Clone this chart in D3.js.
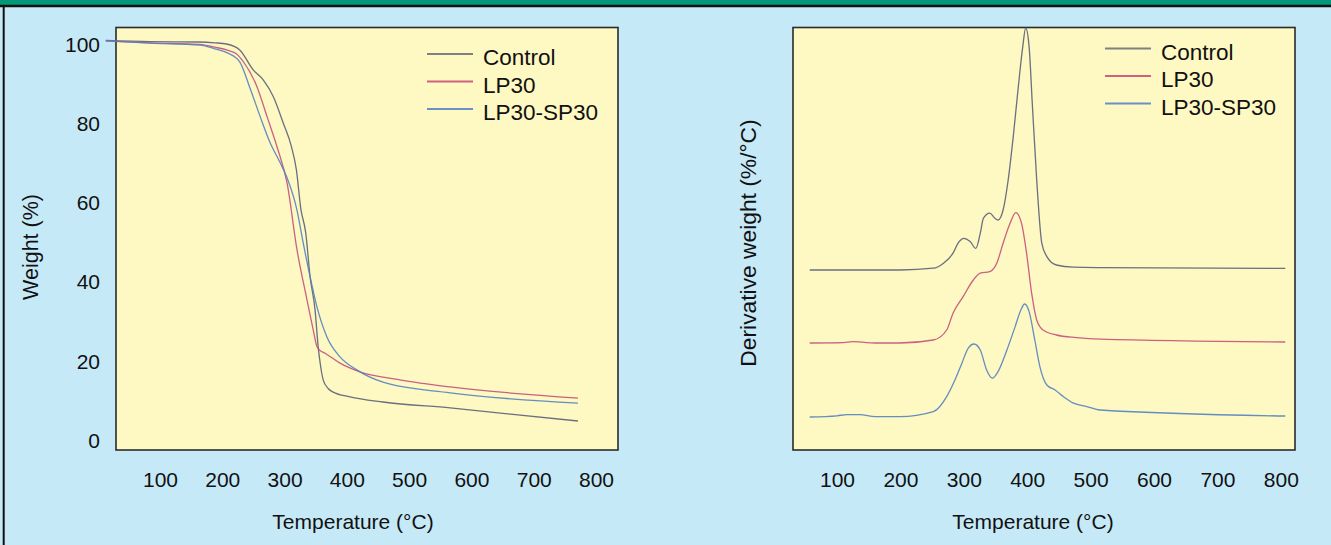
<!DOCTYPE html>
<html>
<head>
<meta charset="utf-8">
<script src="https://cdn.jsdelivr.net/npm/d3@7"></script>
<style>
  html, body { margin: 0; padding: 0; background: #c6e9f8; }
  svg { display: block; font-family: "Liberation Sans", Arial, Helvetica, sans-serif; }
</style>
</head>
<body>
<svg id="chart" width="1331" height="545"></svg>
<script>
// ---- data -------------------------------------------------------------
const seriesNames = ["Control", "LP30", "LP30-SP30"];
const tempTicks = [100, 200, 300, 400, 500, 600, 700, 800];
const weightTicks = [0, 20, 40, 60, 80, 100];

// TGA: [temperature (°C), weight (%)]
const tgaControl = [[13,100.9],[84,100.6],[164,100.5],[188,100.3],[207,100.0],[228,98.5],[250,93.4],[266,90.9],[282,86.7],[298,80],[311,74.1],[319,68.2],[326,58.5],[334,52.3],[341,41.2],[349,32.8],[354,23.5],[358,18.5],[362,15.2],[370,13],[378,12.1],[405,10.9],[458,9.6],[566,8.1],[771,4.8]];
const tgaLP30 = [[13,100.8],[84,100.3],[164,99.9],[188,99.2],[209,98.4],[223,97.5],[234,95.5],[256,89.1],[272,81.6],[288,74],[304,64.9],[320,48],[336,35.4],[346,27.8],[352,23.6],[357,22.6],[365,21.9],[389,19.4],[421,17.2],[485,15.2],[566,13.4],[771,10.6]];
const tgaLP30SP30 = [[13,100.8],[84,100.2],[164,99.7],[188,98.8],[209,97.7],[228,95.5],[244,89.1],[261,81.6],[277,75],[293,70],[304,66.2],[320,58],[330,49.7],[341,41.2],[352,33.6],[368,26],[389,21],[416,17.7],[458,14.6],[566,11.9],[771,9.3]];

// DTG: [temperature (°C), derivative weight (%/°C)]
const dtgControl = [[57,0],[120,0],[200,0],[252,0.009],[268,0.034],[283,0.084],[291,0.134],[300,0.158],[310,0.142],[319,0.108],[326,0.184],[331,0.259],[341,0.284],[349,0.259],[354,0.25],[362,0.3],[370,0.45],[378,0.667],[386,0.917],[393,1.117],[397.6,1.21],[403,1.117],[408,0.834],[415,0.45],[423,0.134],[431,0.067],[446,0.025],[473,0.014],[515,0.012],[807,0.008]];
const dtgLP30 = [[57,0],[110,0.002],[125,0.007],[140,0.004],[160,0],[199,0],[252,0.015],[273,0.065],[283,0.149],[299,0.232],[315,0.315],[326,0.349],[341,0.357],[352,0.399],[362,0.499],[373,0.599],[382,0.652],[391,0.599],[399,0.449],[407,0.249],[415,0.115],[425,0.065],[446,0.04],[478,0.027],[515,0.019],[807,0.005]];
const dtgLP30SP30 = [[57,0],[100,0.006],[116,0.012],[136,0.012],[160,0.002],[199,0.002],[252,0.027],[273,0.102],[286,0.185],[297,0.269],[307,0.344],[316,0.365],[326,0.335],[336,0.235],[345,0.194],[354,0.227],[368,0.335],[381,0.452],[390,0.535],[396,0.565],[403,0.527],[412,0.385],[420,0.252],[431,0.16],[444,0.135],[457,0.102],[473,0.069],[494,0.052],[515,0.035],[807,0.005]];
// vertical shift applied to each DTG curve so they stack
const dtgOffsets = [0.9, 0.535, 0.165];

// ---- style ------------------------------------------------------------
const lineColors = ["#5a5f7a", "#c4507c", "#5282c2"];
const legendColors = ["#808080", "#d0607f", "#6b8fc6"];
const plotFill = "#fef8c2";
const fontSize = 21;

const svg = d3.select("#chart");

// page background, top band and outer rule
svg.append("rect").attr("width", 1331).attr("height", 545).attr("fill", "#c6e9f8");
svg.append("rect").attr("x", 0).attr("y", 0).attr("width", 1331).attr("height", 5).attr("fill", "#009878");
svg.append("line").attr("x1", 0).attr("x2", 1331).attr("y1", 6).attr("y2", 6)
  .attr("stroke", "#111").attr("stroke-width", 2.5);
svg.append("line").attr("x1", 3.7).attr("x2", 3.7).attr("y1", 6).attr("y2", 545)
  .attr("stroke", "#111").attr("stroke-width", 2);

// ---- scales -----------------------------------------------------------
const xL = d3.scaleLinear().domain([0, 800]).range([97.7, 596]);
const yL = d3.scaleLinear().domain([0, 100]).range([440, 44]);
const xR = d3.scaleLinear().domain([0, 800]).range([773.6, 1280.8]);
const yR = d3.scaleLinear().domain([0, 2.115]).range([450, 27]);

const panels = [
  { frame: [116, 27.5, 618, 450], x: xL, y: yL, title: 353, yTitleX: 30, yTitleY: 247,
    yLabel: "Weight (%)", yLabelSize: 21.5, legend: [427, 54],
    series: [tgaControl, tgaLP30, tgaLP30SP30], offsets: [0, 0, 0] },
  { frame: [793, 27.5, 1295, 450], x: xR, y: yR, title: 1033, yTitleX: 748, yTitleY: 243,
    yLabel: "Derivative weight (%/°C)", yLabelSize: 22.8, legend: [1105, 48.5],
    series: [dtgControl, dtgLP30, dtgLP30SP30], offsets: dtgOffsets }
];

panels.forEach((p, pi) => {
  const [fx0, fy0, fx1, fy1] = p.frame;
  const g = svg.append("g");

  // plot area
  g.append("rect").attr("x", fx0).attr("y", fy0)
    .attr("width", fx1 - fx0).attr("height", fy1 - fy0)
    .attr("fill", plotFill).attr("stroke", "#2b2b2b").attr("stroke-width", 1.6);

  // x axis labels
  const ax = g.append("g").attr("transform", `translate(0,${fy1})`)
    .call(d3.axisBottom(p.x).tickValues(tempTicks).tickSize(0).tickFormat(d3.format("d")));
  ax.select(".domain").remove();
  ax.selectAll("text").attr("y", 30).attr("dy", "0.35em")
    .attr("font-size", fontSize).attr("fill", "#111").attr("font-family", null);

  // y axis labels (weight panel only)
  if (pi === 0) {
    const ay = g.append("g").attr("transform", `translate(${fx0},0)`)
      .call(d3.axisLeft(p.y).tickValues(weightTicks).tickSize(0).tickPadding(16));
    ay.select(".domain").remove();
    ay.selectAll("text").attr("font-size", fontSize).attr("fill", "#111")
      .attr("dy", "0.35em").attr("font-family", null);
  }

  // axis titles
  g.append("text").attr("x", p.title).attr("y", 522).attr("dy", "0.35em")
    .attr("text-anchor", "middle").attr("font-size", fontSize).attr("fill", "#111")
    .text("Temperature (°C)");
  g.append("text").attr("transform", `translate(${p.yTitleX},${p.yTitleY}) rotate(-90)`)
    .attr("dy", "0.35em").attr("text-anchor", "middle")
    .attr("font-size", p.yLabelSize).attr("fill", "#111").text(p.yLabel);

  // curves
  const line = d3.line()
    .x(d => p.x(d[0]))
    .y(d => p.y(d[1]))
    .curve(d3.curveMonotoneX);
  p.series.forEach((s, i) => {
    const pts = s.map(d => [d[0], d[1] + p.offsets[i]]);
    g.append("path").attr("d", line(pts)).attr("fill", "none")
      .attr("stroke", lineColors[i]).attr("stroke-width", 1.3)
      .attr("stroke-linejoin", "round").attr("opacity", 0.9);
  });

  // legend
  const [lx, ly] = p.legend;
  const lg = g.append("g").attr("transform", `translate(${lx},${ly})`);
  seriesNames.forEach((name, i) => {
    const row = lg.append("g").attr("transform", `translate(0,${i * 27.5})`);
    row.append("line").attr("x1", 0).attr("x2", 46).attr("y1", 0).attr("y2", 0)
      .attr("stroke", legendColors[i]).attr("stroke-width", 2);
    row.append("text").attr("x", 56).attr("y", 3.5).attr("dy", "0.35em")
      .attr("font-size", 22.5).attr("fill", "#111").text(name);
  });
});
</script>
</body>
</html>
